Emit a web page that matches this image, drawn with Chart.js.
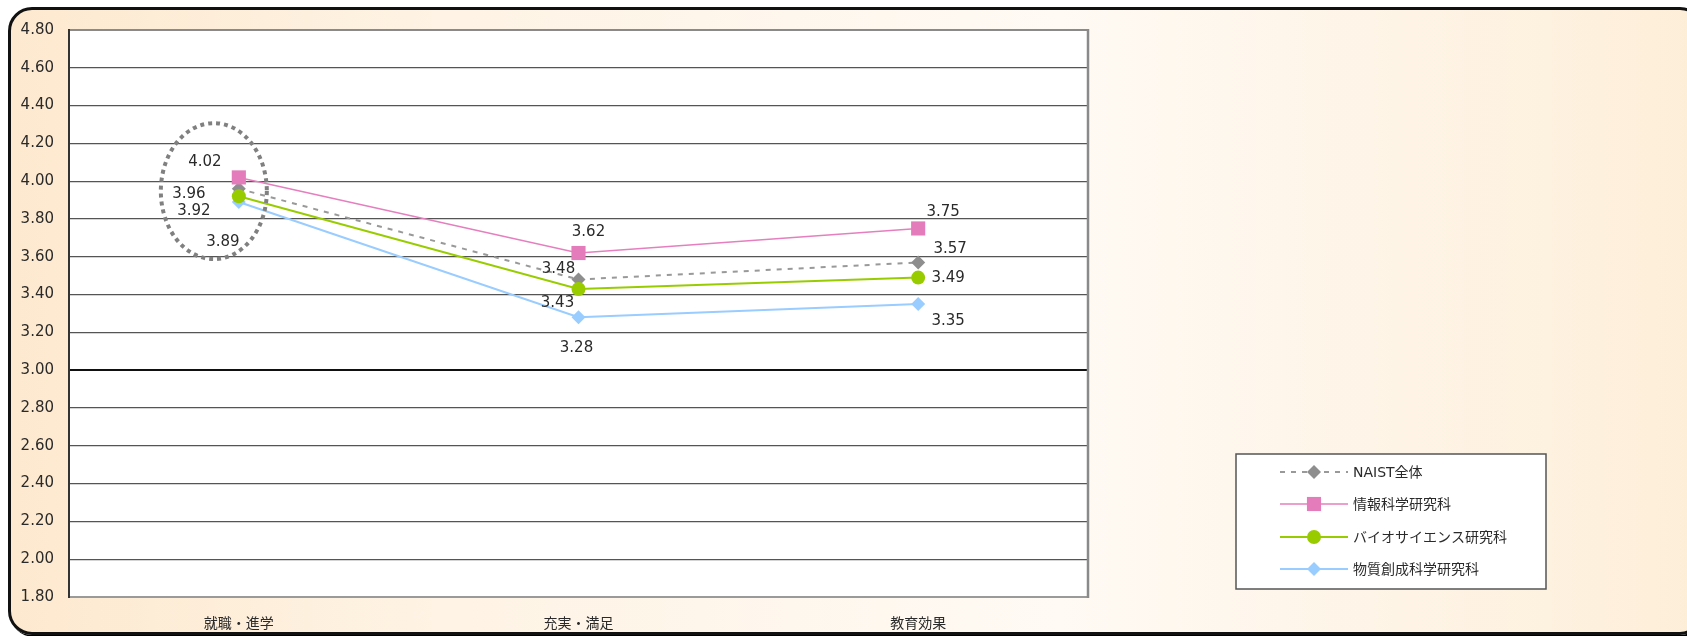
<!DOCTYPE html>
<html>
<head>
<meta charset="utf-8">
<script src="https://cdn.jsdelivr.net/npm/chart.js@4.4.1/dist/chart.umd.min.js"></script>
<style>
  html, body { margin:0; padding:0; width:1687px; height:636px; overflow:hidden; background:#ffffff; }
  #frame {
    position:absolute; left:8px; top:7px; width:1690px; height:622px;
    border:3px solid #111; border-radius:24px;
    box-shadow: 2px 2px 0 #000;
    background: linear-gradient(to right, #fde9cf 0%, #fef3e4 25%, #fffaf4 62%, #fef4e6 82%, #fdeed8 100%);
  }
  #c { position:absolute; left:0; top:0; }
</style>
</head>
<body>
<div id="frame"></div>
<canvas id="c" width="1687" height="636"></canvas>
<script>
// ---- data ----
const categories = ['就職・進学', '充実・満足', '教育効果'];
const seriesNames = ['NAIST全体', '情報科学研究科', 'バイオサイエンス研究科', '物質創成科学研究科'];
const naistAll = [3.96, 3.48, 3.57];
const infoSci = [4.02, 3.62, 3.75];
const bioSci = [3.92, 3.43, 3.49];
const matSci = [3.89, 3.28, 3.35];
const yTickMin = 1.8, yTickMax = 4.8, yTickStep = 0.2;

// ---- styling (label offsets in px relative to each point) ----
const labelOffsets = [
  [[-50, 5], [-20, -10], [32, -13]],
  [[-34, -15], [10, -21], [25, -16]],
  [[-45, 15], [-21, 14], [30, 1]],
  [[-16, 40], [-2, 31], [30, 17]]
];
const NUM_FONT = '15px "DejaVu Sans", "Noto Sans CJK JP", sans-serif';
const JP_FONT = '14px "DejaVu Sans", "Noto Sans CJK JP", sans-serif';

const plotBg = {
  id: 'plotBg',
  beforeDraw(chart) {
    const a = chart.chartArea, ctx = chart.ctx;
    ctx.save();
    ctx.fillStyle = '#ffffff';
    ctx.fillRect(a.left, a.top, a.right - a.left, a.bottom - a.top);
    ctx.restore();
  },
  afterDraw(chart) {
    const a = chart.chartArea, ctx = chart.ctx;
    ctx.save();
    ctx.strokeStyle = '#8a8a8a';
    ctx.lineWidth = 2.5;
    ctx.beginPath();
    ctx.moveTo(a.right, a.top - 1);
    ctx.lineTo(a.right, a.bottom + 1);
    ctx.stroke();
    ctx.restore();
  }
};

const dataLabels = {
  id: 'dataLabels',
  afterDatasetsDraw(chart) {
    const ctx = chart.ctx;
    ctx.save();
    ctx.font = NUM_FONT;
    ctx.fillStyle = '#2a2a2a';
    ctx.textAlign = 'center';
    ctx.textBaseline = 'middle';
    chart.data.datasets.forEach((ds, i) => {
      const meta = chart.getDatasetMeta(i);
      meta.data.forEach((el, j) => {
        const off = labelOffsets[i][j];
        ctx.fillText(Number(ds.data[j]).toFixed(2), el.x + off[0], el.y + off[1]);
      });
    });
    // dotted highlight ellipse around first category
    const xs = chart.scales.x, ys = chart.scales.y;
    const firstVals = chart.data.datasets.map(d => d.data[0]);
    const avg = firstVals.reduce((a, b) => a + b, 0) / firstVals.length;
    const cx = xs.getPixelForValue(0) - 25;
    const cy = ys.getPixelForValue(avg);
    ctx.strokeStyle = '#808080';
    ctx.lineWidth = 4;
    ctx.setLineDash([4, 4]);
    ctx.beginPath();
    ctx.ellipse(cx, cy, 53, 68, 0, 0, Math.PI * 2);
    ctx.stroke();
    ctx.restore();
  }
};

function drawMarker(ctx, style, x, y, r, color) {
  ctx.fillStyle = color;
  ctx.beginPath();
  if (style === 'rect') {
    const s = r * Math.SQRT1_2;
    ctx.rect(x - s, y - s, 2 * s, 2 * s);
  } else if (style === 'rectRot') {
    ctx.moveTo(x - r, y); ctx.lineTo(x, y - r); ctx.lineTo(x + r, y); ctx.lineTo(x, y + r); ctx.closePath();
  } else {
    ctx.arc(x, y, r, 0, Math.PI * 2);
  }
  ctx.fill();
}

const customLegend = {
  id: 'customLegend',
  afterDraw(chart) {
    const ctx = chart.ctx;
    const box = { x: 1236, y: 454, w: 310, h: 135 };
    ctx.save();
    ctx.fillStyle = '#ffffff';
    ctx.fillRect(box.x, box.y, box.w, box.h);
    ctx.strokeStyle = '#555';
    ctx.lineWidth = 1.5;
    ctx.strokeRect(box.x, box.y, box.w, box.h);
    const rows = [472, 504, 537, 569];
    chart.data.datasets.forEach((ds, i) => {
      const y = rows[i];
      ctx.strokeStyle = ds.borderColor;
      ctx.lineWidth = ds.borderWidth;
      ctx.setLineDash(ds.borderDash || []);
      ctx.beginPath();
      ctx.moveTo(1280, y);
      ctx.lineTo(1348, y);
      ctx.stroke();
      ctx.setLineDash([]);
      drawMarker(ctx, ds.pointStyle, 1314, y, ds.pointRadius, ds.pointBackgroundColor);
      ctx.fillStyle = '#2a2a2a';
      ctx.font = JP_FONT;
      ctx.textAlign = 'left';
      ctx.textBaseline = 'middle';
      ctx.fillText(ds.label, 1353, y + 1);
    });
    ctx.restore();
  }
};

const mk = (label, data, color, lineColor, width, style, radius, dash, order) => ({
  label, data, order,
  borderColor: lineColor, borderWidth: width, borderDash: dash,
  pointStyle: style, pointRadius: radius, pointHoverRadius: radius,
  pointBackgroundColor: color, pointBorderColor: color, pointBorderWidth: 0,
  tension: 0, fill: false
});

new Chart(document.getElementById('c'), {
  type: 'line',
  data: {
    labels: categories,
    datasets: [
      mk(seriesNames[0], naistAll, '#8e8e8e', '#999999', 2, 'rectRot', 7, [5, 6], 2),
      mk(seriesNames[1], infoSci, '#E47CBB', '#E57FBF', 1.5, 'rect', 10, [], 1),
      mk(seriesNames[2], bioSci, '#99CC00', '#99CC00', 2, 'circle', 7, [], 0),
      mk(seriesNames[3], matSci, '#99CCFF', '#99CCFF', 2, 'rectRot', 7, [], 3)
    ]
  },
  options: {
    responsive: false,
    animation: false,
    events: [],
    layout: { padding: { top: 30, right: 599, bottom: 0, left: 0 } },
    plugins: { legend: { display: false }, tooltip: { enabled: false } },
    scales: {
      x: {
        offset: true,
        grid: { display: false, drawTicks: false },
        border: { display: true, color: '#9a9a9a', width: 2 },
        ticks: { color: '#2a2a2a', font: { family: '"Noto Sans CJK JP", sans-serif', size: 14 }, padding: 17 },
        afterFit(s) { s.height = 39; }
      },
      y: {
        min: yTickMin, max: yTickMax,
        grid: {
          drawTicks: false,
          color: (c) => {
            const v = Math.round(c.tick.value * 100) / 100;
            if (v === 3) return '#111';
            if (v === yTickMax) return '#8a8a8a';
            if (v === yTickMin) return '#9a9a9a';
            return '#555';
          },
          lineWidth: (c) => {
            const v = Math.round(c.tick.value * 100) / 100;
            if (v === 3 || v === yTickMax || v === yTickMin) return 2;
            return 1.3;
          }
        },
        border: { display: true, color: '#333', width: 2 },
        ticks: {
          stepSize: yTickStep,
          color: '#2a2a2a',
          font: { family: '"DejaVu Sans", sans-serif', size: 15 },
          padding: 15,
          callback: (v) => Number(v).toFixed(2)
        },
        afterFit(s) { s.width = 69; }
      }
    }
  },
  plugins: [plotBg, dataLabels, customLegend]
});
</script>
</body>
</html>
